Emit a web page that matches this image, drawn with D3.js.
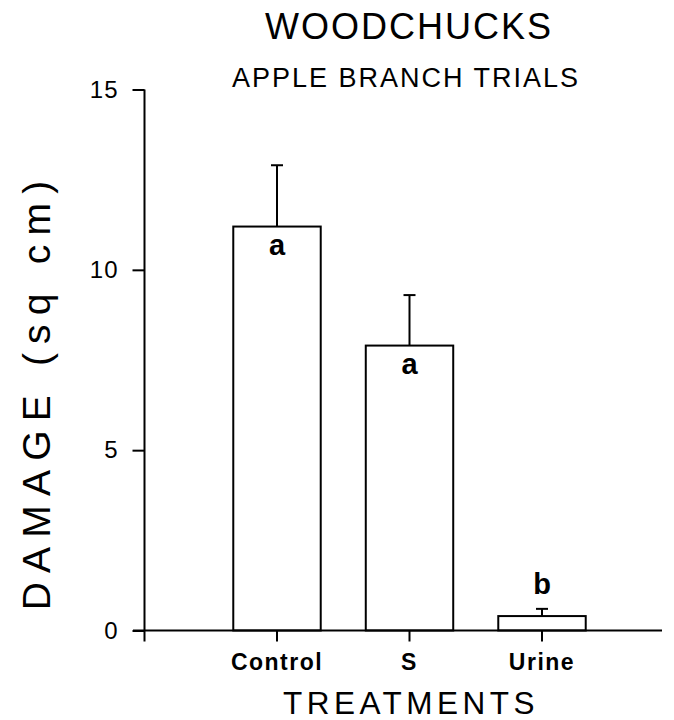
<!DOCTYPE html>
<html>
<head>
<meta charset="utf-8">
<script src="https://cdn.jsdelivr.net/npm/d3@7"></script>
<style>
  body { margin: 0; background: #fff; }
  text { font-family: "Liberation Sans", Arial, sans-serif; fill: #000; }
</style>
</head>
<body>
<div id="chart"></div>
<script>
// data
const categories = ['Control', 'S', 'Urine'];
const means = [11.2, 7.9, 0.4];
const errUpper = [12.9, 9.3, 0.6];
const letters = ['a', 'a', 'b'];
const yTicks = [0, 5, 10, 15];

const W = 674, H = 720;

const svg = d3.select('#chart').append('svg')
    .attr('width', W)
    .attr('height', H);

let y = d3.scaleLinear().domain([0, 15]).range([630.5, 89.5]);
let x = d3.scaleBand().domain(categories)
    .range([210.75, 608.25])
    .paddingInner(0.34)
    .paddingOuter(0.17);

// titles
svg.append('text')
    .attr('x', 409).attr('y', 39)
    .attr('text-anchor', 'middle')
    .style('font-size', '36px')
    .style('letter-spacing', '2px')
    .text('WOODCHUCKS');

svg.append('text')
    .attr('x', 406).attr('y', 87)
    .attr('text-anchor', 'middle')
    .style('font-size', '27px')
    .style('letter-spacing', '2px')
    .text('APPLE BRANCH TRIALS');

// bars
let g = svg.append('g');

g.selectAll('rect.bar')
    .data(means)
    .enter()
    .append('rect')
    .attr('class', 'bar')
    .attr('x', (d, i) => x(categories[i]))
    .attr('y', d => y(d))
    .attr('width', x.bandwidth())
    .attr('height', d => y(0) - y(d))
    .attr('fill', 'none')
    .attr('stroke', '#000')
    .attr('stroke-width', 2);

// error bars (upper only)
let err = g.selectAll('g.err')
    .data(means)
    .enter()
    .append('g')
    .attr('class', 'err');

err.append('line')
    .attr('x1', (d, i) => x(categories[i]) + x.bandwidth() / 2)
    .attr('x2', (d, i) => x(categories[i]) + x.bandwidth() / 2)
    .attr('y1', d => y(d))
    .attr('y2', (d, i) => y(errUpper[i]))
    .attr('stroke', '#000').attr('stroke-width', 2);

err.append('line')
    .attr('x1', (d, i) => x(categories[i]) + x.bandwidth() / 2 - 6)
    .attr('x2', (d, i) => x(categories[i]) + x.bandwidth() / 2 + 6)
    .attr('y1', (d, i) => y(errUpper[i]))
    .attr('y2', (d, i) => y(errUpper[i]))
    .attr('stroke', '#000').attr('stroke-width', 2);

// significance letters
g.selectAll('text.sig')
    .data(means)
    .enter()
    .append('text')
    .attr('class', 'sig')
    .attr('x', (d, i) => x(categories[i]) + x.bandwidth() / 2)
    .attr('y', (d, i) => d > 2 ? y(d) + 28 : y(errUpper[i]) - 15)
    .attr('text-anchor', 'middle')
    .style('font-size', '29px')
    .style('font-weight', 'bold')
    .text((d, i) => letters[i]);

// y axis
let yAxis = svg.append('g')
    .attr('transform', 'translate(144.5,0)')
    .call(d3.axisLeft(y).tickValues(yTicks).tickSize(12).tickSizeOuter(0).tickPadding(14));

yAxis.select('.domain').remove();
yAxis.selectAll('line').attr('stroke-width', 2);
yAxis.selectAll('text')
    .style('font-size', '24px')
    .style('font-family', '"Liberation Sans", Arial, sans-serif')
    .style('letter-spacing', '1px');

svg.append('line')
    .attr('x1', 144.5).attr('x2', 144.5)
    .attr('y1', y(15)).attr('y2', y(0) + 11)
    .attr('stroke', '#000').attr('stroke-width', 2);

// x axis
let xAxis = svg.append('g')
    .attr('transform', 'translate(0,' + y(0) + ')')
    .call(d3.axisBottom(x).tickSize(11).tickSizeOuter(0).tickPadding(12));

xAxis.select('.domain').remove();
xAxis.selectAll('line').attr('stroke-width', 2);
xAxis.selectAll('text')
    .style('font-size', '23px')
    .style('font-weight', 'bold')
    .style('font-family', '"Liberation Sans", Arial, sans-serif')
    .style('letter-spacing', '1.5px');

svg.append('line')
    .attr('x1', 133).attr('x2', 662)
    .attr('y1', y(0)).attr('y2', y(0))
    .attr('stroke', '#000').attr('stroke-width', 2);

// axis labels
svg.append('text')
    .attr('x', 411).attr('y', 714)
    .attr('text-anchor', 'middle')
    .style('font-size', '31.5px')
    .style('letter-spacing', '4.5px')
    .text('TREATMENTS');

svg.append('text')
    .attr('transform', 'translate(50,391) rotate(-90)')
    .attr('text-anchor', 'middle')
    .style('font-size', '39px')
    .style('letter-spacing', '9.2px')
    .text('DAMAGE (sq cm)');
</script>
</body>
</html>
